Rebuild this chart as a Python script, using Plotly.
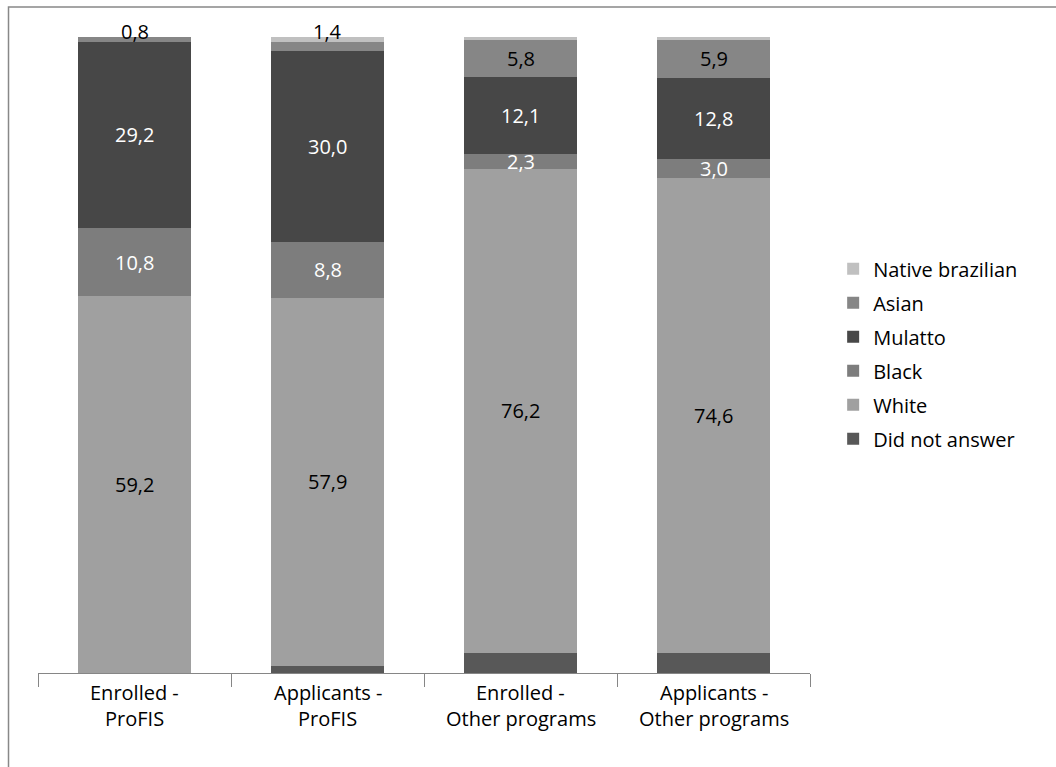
import plotly.graph_objects as go

# Survey groups (two-line axis labels)
categories = ["Enrolled -<br>ProFIS", "Applicants -<br>ProFIS",
              "Enrolled -<br>Other programs", "Applicants -<br>Other programs"]

# Percentages per group, stacked bottom to top
did_not_answer = [0.0, 1.1, 3.1, 3.2]
white = [59.2, 57.9, 76.2, 74.6]
black = [10.8, 8.8, 2.3, 3.0]
mulatto = [29.2, 30.0, 12.1, 12.8]
asian = [0.8, 1.4, 5.8, 5.9]
native_brazilian = [0.0, 0.8, 0.5, 0.5]

series = [
    ("Did not answer", did_not_answer, "#585858"),
    ("White", white, "#a0a0a0"),
    ("Black", black, "#7d7d7d"),
    ("Mulatto", mulatto, "#474747"),
    ("Asian", asian, "#868686"),
    ("Native brazilian", native_brazilian, "#c0c0c0"),
]

# Which series carry value labels, and their text colour
labelled = {"White": "#000000", "Black": "#ffffff", "Mulatto": "#ffffff", "Asian": "#000000"}

FONT = "Open Sans"
FS = 20

fig = go.Figure()
n = len(series)
for i, (name, vals, color) in enumerate(series):
    fig.add_trace(go.Bar(
        x=categories, y=vals, name=name,
        marker=dict(color=color, line=dict(width=0)),
        legendgroup=f"g{i}",
        legendrank=n - i,  # top of the stack listed first
        hoverinfo="skip",
    ))

annotations = []
base = [0.0] * len(categories)
for name, vals, color in series:
    for j, v in enumerate(vals):
        if name in labelled:
            txt = f"{v:.1f}".replace(".", ",")
            if v < 2:
                # small slice: label sits just above the bar top
                total = sum(s[1][j] for s in series)
                annotations.append(dict(x=categories[j], y=total, text=txt,
                                        showarrow=False, yanchor="middle", yshift=6,
                                        font=dict(family=FONT, size=FS, color="#000000")))
            else:
                annotations.append(dict(x=categories[j], y=base[j] + v / 2, text=txt,
                                        showarrow=False, yanchor="middle",
                                        font=dict(family=FONT, size=FS, color=labelled[name])))
        base[j] += v

# Category labels on two lines below the axis
for c in categories:
    for k, line in enumerate(c.split("<br>")):
        annotations.append(dict(x=c, y=-0.030 - 0.041 * k, xref="x", yref="paper",
                                text=line, showarrow=False, yanchor="middle",
                                font=dict(family=FONT, size=FS, color="#000000")))

fig.update_layout(
    barmode="stack",
    bargap=0.415,
    width=1056, height=767,
    margin=dict(l=38, r=246, t=37, b=94),
    paper_bgcolor="white", plot_bgcolor="white",
    font=dict(family=FONT, size=FS, color="#000000"),
    showlegend=True,
    legend=dict(x=1.03, xanchor="left", y=0.502, yanchor="middle",
                traceorder="grouped", tracegroupgap=5,
                font=dict(family=FONT, size=FS, color="#000000")),
    xaxis=dict(showticklabels=False, ticks="outside", tickson="boundaries",
               ticklen=13, tickcolor="#868686", tickwidth=1,
               showline=True, linecolor="#868686", linewidth=1,
               showgrid=False, zeroline=False, range=[-0.5, 3.5]),
    yaxis=dict(visible=False, range=[0, 100], showgrid=False, zeroline=False),
    annotations=annotations,
    shapes=[dict(type="rect", xref="paper", yref="paper",
                 x0=-0.0382, x1=1.33, y0=-0.16, y1=1.047,
                 line=dict(color="#888888", width=1.5), layer="below")],
)

fig.write_html("out.html")
